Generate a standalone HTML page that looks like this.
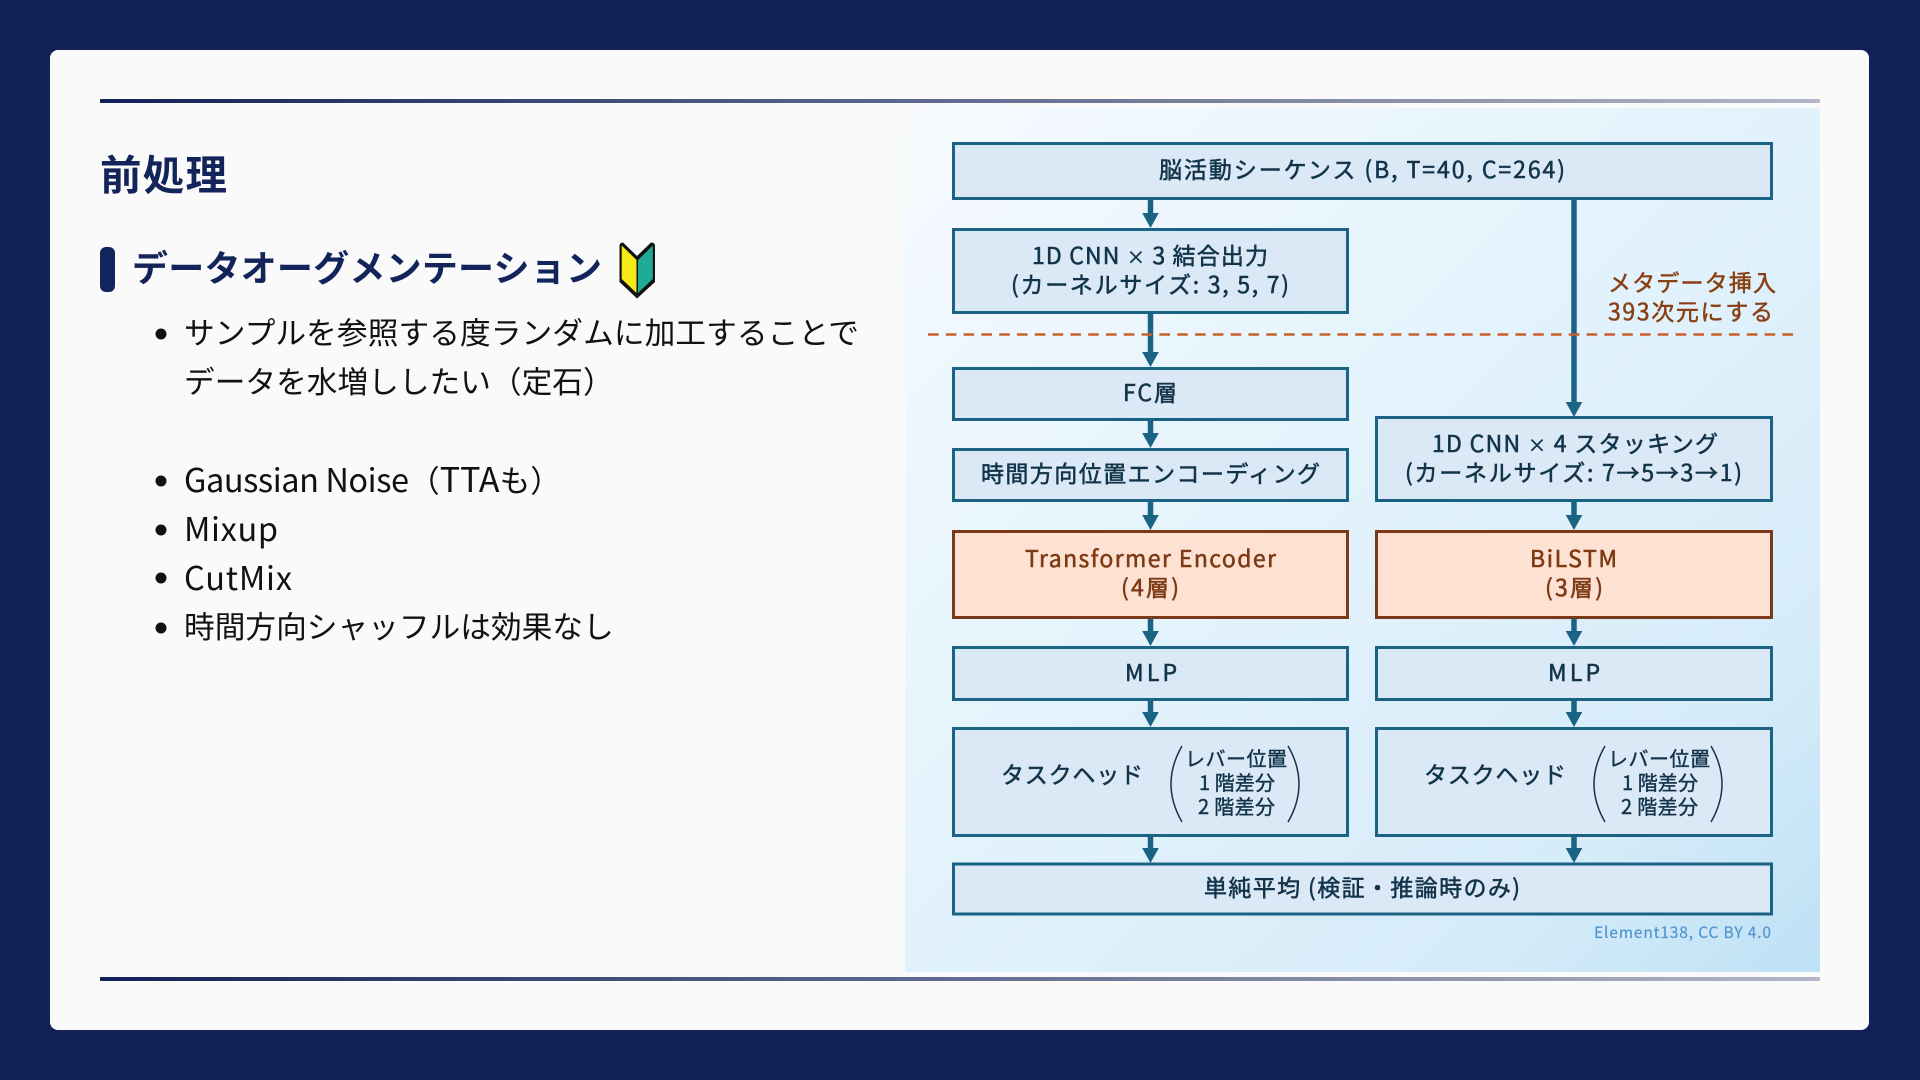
<!DOCTYPE html>
<html lang="ja"><head><meta charset="utf-8"><title>前処理</title>
<style>
html,body{margin:0;padding:0;width:1920px;height:1080px;overflow:hidden;background:#122257}
svg{display:block}
text{font-family:"Liberation Sans","Noto Sans CJK JP",sans-serif}
.j text,text.j{font-family:"Noto Sans CJK JP","Liberation Sans",sans-serif}
.b{fill:#dbe8f6;stroke:#1a6385;stroke-width:3}
.o{fill:#fde2d3;stroke:#7a3a1a;stroke-width:3}
.t{font-size:23px;fill:#12344a;stroke:#12344a;stroke-width:.55}
.u{font-size:23px;fill:#7d3a14;stroke:#7d3a14;stroke-width:.55}
.s{font-size:20px;fill:#12344a;stroke:#12344a;stroke-width:.4}
.l{font-size:30.7px;fill:#111}
.m{font-size:32.5px;fill:#111}
.p{fill:none;stroke:#12344a;stroke-width:1.5}
.x{font-size:18px}
</style></head><body>
<svg width="1920" height="1080" viewBox="0 0 1920 1080" xmlns="http://www.w3.org/2000/svg" class="j">
<defs>
<linearGradient id="r" x1="0" x2="1" y1="0" y2="0"><stop offset="0" stop-color="#122257"/><stop offset="1" stop-color="#b3b6c6"/></linearGradient>
<linearGradient id="pg" x1="0" y1="0" x2="1" y2="1"><stop offset="0" stop-color="#f6fafe"/><stop offset=".45" stop-color="#e3f3fc"/><stop offset=".8" stop-color="#d6ecf9"/><stop offset="1" stop-color="#bde1f5"/></linearGradient>
<g id="ah"><path d="M-8.300,0H8.300L0,15Z" fill="#1a6385"/></g>
</defs>
<rect width="1920" height="1080" fill="#122257"/>
<rect x="50" y="50" width="1819" height="980" rx="8" fill="#fafafb"/>
<rect x="905" y="108" width="915" height="864" fill="url(#pg)"/>
<rect x="100" y="99" width="1720" height="4" rx="1" fill="url(#r)"/>
<rect x="100" y="977" width="1720" height="4" rx="1" fill="url(#r)"/>

<text x="100" y="190" font-size="41.5" font-weight="700" fill="#13245a" textLength="127">前処理</text>
<rect x="100" y="247" width="15" height="45" rx="6" fill="#13245a"/>
<text x="132" y="281" font-size="36" font-weight="700" fill="#13245a" textLength="470">データオーグメンテーション</text>
<path d="M619.500,246Q619.500,242.500 623,242.500L637,256L651,242.500Q655,242.500 655,246V282L637,298.500L619.500,282Z" fill="#111"/>
<path d="M621.700,245.500L636.500,260V293L621.700,279Z" fill="#f5ea18"/>
<path d="M652.800,245.500L638,260V293L652.800,279Z" fill="#1faa93"/>

<g fill="#111">
<circle cx="161" cy="334" r="5.500"/><circle cx="161" cy="481" r="5.500"/><circle cx="161" cy="530" r="5.500"/><circle cx="161" cy="578" r="5.500"/><circle cx="161" cy="628" r="5.500"/>
</g>
<text class="l" x="184" y="344" textLength="675">サンプルを参照する度ランダムに加工することで</text>
<text class="l" x="184" y="393">データを水増ししたい（定石）</text>
<text class="m" x="184" y="492" textLength="225">Gaussian Noise</text>
<text class="l" x="409" y="492">（<tspan font-size="34">TTA</tspan>も）</text>
<text class="m" x="184" y="541" textLength="94">Mixup</text>
<text class="m" x="184" y="590" textLength="108">CutMix</text>
<text class="l" x="184" y="638">時間方向シャッフルは効果なし</text>

<!-- connectors -->
<g fill="none" stroke="#1a6385" stroke-width="5.500">
<path d="M1150.500,200V214M1150.500,314V354M1150.500,420V435M1150.500,502V517M1150.500,619V633M1150.500,701V714M1150.500,837V850"/>
<path d="M1574,200V404M1574,502V517M1574,619V633M1574,701V714M1574,837V850"/>
</g>
<g>
<use href="#ah" x="1150.500" y="213"/><use href="#ah" x="1150.500" y="352"/><use href="#ah" x="1150.500" y="433"/><use href="#ah" x="1150.500" y="515"/><use href="#ah" x="1150.500" y="631"/><use href="#ah" x="1150.500" y="712"/><use href="#ah" x="1150.500" y="848"/>
<use href="#ah" x="1574" y="402"/><use href="#ah" x="1574" y="515"/><use href="#ah" x="1574" y="631"/><use href="#ah" x="1574" y="712"/><use href="#ah" x="1574" y="848"/>
</g>
<path d="M928,334.500H1793" stroke="#c8602a" stroke-width="2.500" stroke-dasharray="10.6 7.2" fill="none"/>

<!-- boxes -->
<rect class="b" x="953.500" y="143.500" width="818" height="55"/>
<rect class="b" x="953.500" y="229.500" width="394" height="83"/>
<rect class="b" x="953.500" y="368.500" width="394" height="51"/>
<rect class="b" x="953.500" y="449.500" width="394" height="51"/>
<rect class="o" x="953.500" y="531.500" width="394" height="86"/>
<rect class="b" x="953.500" y="647.500" width="394" height="52"/>
<rect class="b" x="953.500" y="728.500" width="394" height="107"/>
<rect class="b" x="953.500" y="864" width="818" height="50"/>
<rect class="b" x="1376.500" y="417.500" width="395" height="83"/>
<rect class="o" x="1376.500" y="531.500" width="395" height="86"/>
<rect class="b" x="1376.500" y="647.500" width="395" height="52"/>
<rect class="b" x="1376.500" y="728.500" width="395" height="107"/>

<!-- labels -->
<text class="t" x="1159" y="178" textLength="406">脳活動シーケンス (B, T=40, C=264)</text>
<text class="t" x="1032" y="264" textLength="236">1D CNN <tspan class="x">×</tspan> 3 結合出力</text>
<text class="t" x="1011" y="293" textLength="278">(カーネルサイズ: 3, 5, 7)</text>
<text class="t" x="1123" y="401" textLength="54">FC層</text>
<text class="t" x="981" y="482" textLength="339">時間方向位置エンコーディング</text>
<text class="u" x="1025" y="567" textLength="251">Transformer Encoder</text>
<text class="u" x="1121" y="596" textLength="58">(4層)</text>
<text class="t" x="1125" y="681" textLength="52">MLP</text>
<text class="t" x="1001" y="783" textLength="142">タスクヘッド</text>
<text class="s" x="1185" y="766" textLength="102">レバー位置</text>
<text class="s" x="1199" y="790" textLength="76">1 階差分</text>
<text class="s" x="1198" y="814" textLength="77">2 階差分</text>
<path class="p" d="M1182,746Q1171,765 1171,784Q1171,803 1182,822M1288,746Q1299,765 1299,784Q1299,803 1288,822"/>
<text class="t" x="1204" y="896" textLength="316">単純平均 (検証・推論時のみ)</text>
<text class="t" x="1432" y="452" textLength="286">1D CNN <tspan class="x">×</tspan> 4 スタッキング</text>
<text class="t" x="1405" y="481" textLength="337">(カーネルサイズ: 7→5→3→1)</text>
<text class="u" x="1530" y="567" textLength="87">BiLSTM</text>
<text class="u" x="1545" y="596" textLength="58">(3層)</text>
<text class="t" x="1548" y="681" textLength="52">MLP</text>
<text class="t" x="1424" y="783" textLength="142">タスクヘッド</text>
<text class="s" x="1608" y="766" textLength="102">レバー位置</text>
<text class="s" x="1622" y="790" textLength="76">1 階差分</text>
<text class="s" x="1621" y="814" textLength="77">2 階差分</text>
<path class="p" d="M1605,746Q1594,765 1594,784Q1594,803 1605,822M1711,746Q1722,765 1722,784Q1722,803 1711,822"/>
<text x="1608" y="291" font-size="23" fill="#8a3f14" stroke="#8a3f14" stroke-width=".5" textLength="168">メタデータ挿入</text>
<text x="1608" y="320" font-size="23" fill="#8a3f14" stroke="#8a3f14" stroke-width=".5" textLength="165">393次元にする</text>
<text x="1594" y="938" font-size="15.500" fill="#5595cf" stroke="#5595cf" stroke-width=".2" textLength="177">Element138, CC BY 4.0</text>
</svg>
</body></html>
